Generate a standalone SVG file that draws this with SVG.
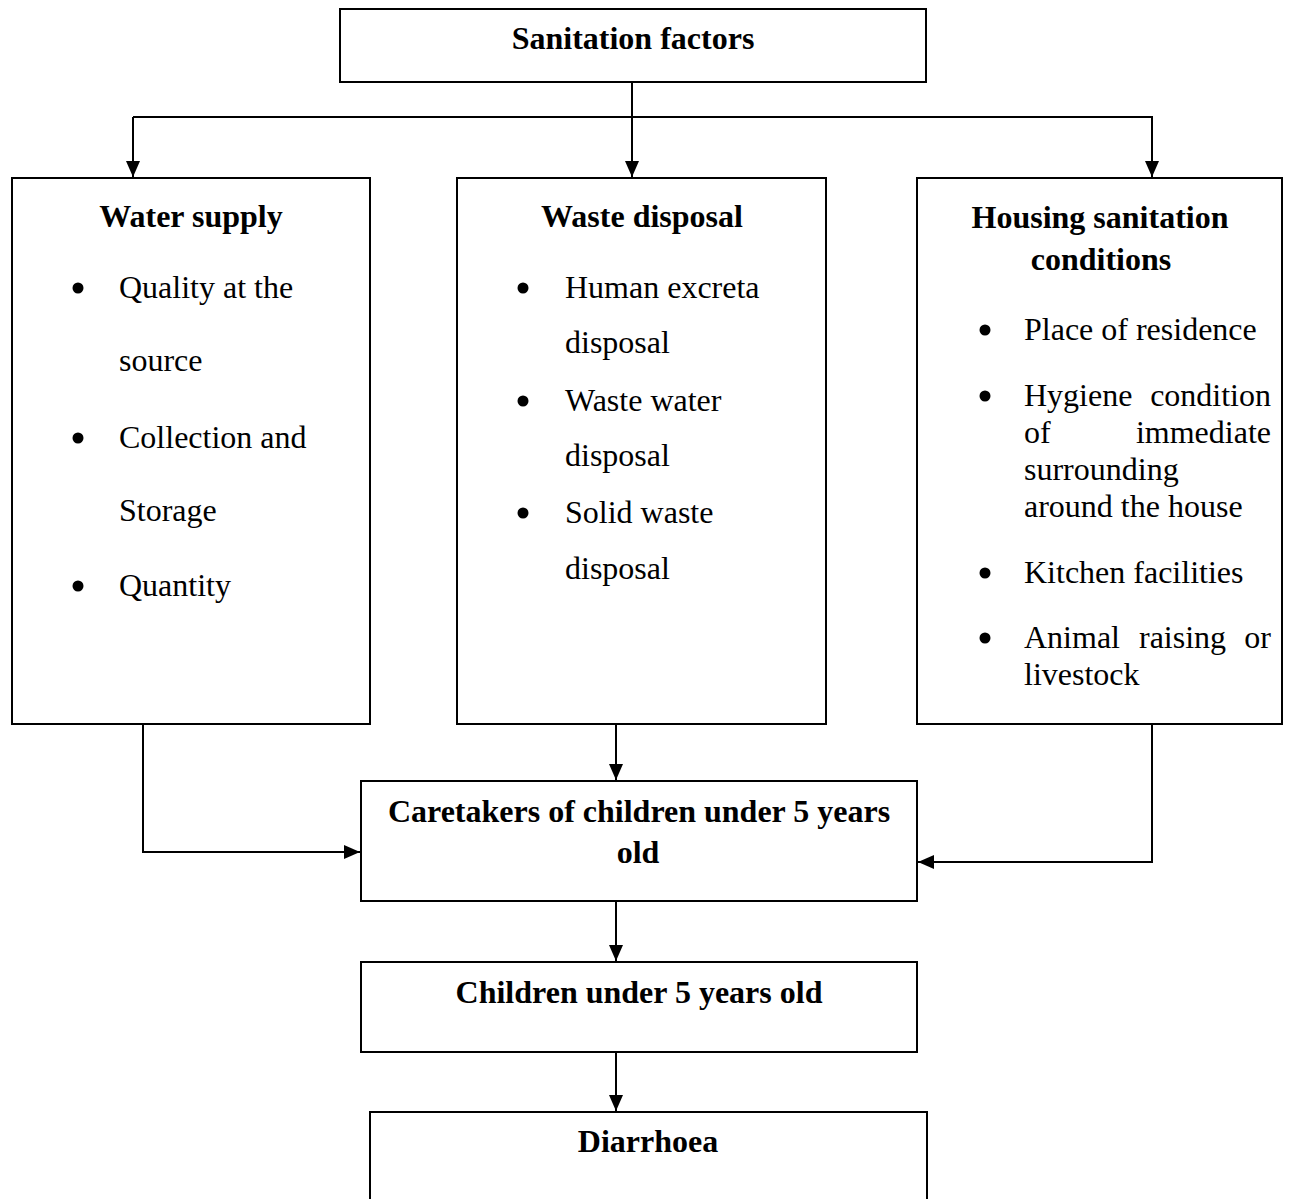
<svg xmlns="http://www.w3.org/2000/svg" width="1292" height="1199" viewBox="0 0 1292 1199">
<defs>
<style>
.box{fill:#fff;stroke:#000;stroke-width:2}
.t{font-family:"Liberation Serif","Times New Roman",serif;font-size:32px;fill:#000}
.b{font-weight:bold;text-anchor:middle}
.c{fill:none;stroke:#000;stroke-width:2}
.dot{fill:#000}
</style>
<marker id="ah" viewBox="0 0 16 14" refX="16" refY="7" markerWidth="16" markerHeight="14" markerUnits="userSpaceOnUse" orient="auto">
<path d="M0,0 L16,7 L0,14 z" fill="#000"/>
</marker>
</defs>
<rect width="1292" height="1199" fill="#fff"/>

<g id="connectors">
<line class="c" x1="632" y1="82" x2="632" y2="177" marker-end="url(#ah)"/>
<polyline class="c" points="133,117 1152,117 1152,177" marker-end="url(#ah)"/>
<line class="c" x1="133" y1="117" x2="133" y2="177" marker-end="url(#ah)"/>
<polyline class="c" points="143,724 143,852 360,852" marker-end="url(#ah)"/>
<line class="c" x1="616" y1="724" x2="616" y2="780" marker-end="url(#ah)"/>
<polyline class="c" points="1152,724 1152,862 918,862" marker-end="url(#ah)"/>
<line class="c" x1="616" y1="902" x2="616" y2="961" marker-end="url(#ah)"/>
<line class="c" x1="616" y1="1052" x2="616" y2="1111" marker-end="url(#ah)"/>
</g>

<g id="sanitation-factors">
<rect class="box" x="340" y="9" width="586" height="73"/>
<text class="t b" x="633" y="49">Sanitation factors</text>
</g>

<g id="water-supply">
<rect class="box" x="12" y="178" width="358" height="546"/>
<text class="t b" x="191" y="227">Water supply</text>
<circle class="dot" cx="78" cy="288" r="5.5"/>
<text class="t" x="119" y="298">Quality at the</text>
<text class="t" x="119" y="371">source</text>
<circle class="dot" cx="78" cy="438" r="5.5"/>
<text class="t" x="119" y="448">Collection and</text>
<text class="t" x="119" y="521">Storage</text>
<circle class="dot" cx="78" cy="586" r="5.5"/>
<text class="t" x="119" y="596">Quantity</text>
</g>

<g id="waste-disposal">
<rect class="box" x="457" y="178" width="369" height="546"/>
<text class="t b" x="642" y="227">Waste disposal</text>
<circle class="dot" cx="523" cy="288" r="5.5"/>
<text class="t" x="565" y="298">Human excreta</text>
<text class="t" x="565" y="353">disposal</text>
<circle class="dot" cx="523" cy="401" r="5.5"/>
<text class="t" x="565" y="411">Waste water</text>
<text class="t" x="565" y="466">disposal</text>
<circle class="dot" cx="523" cy="513" r="5.5"/>
<text class="t" x="565" y="523">Solid waste</text>
<text class="t" x="565" y="579">disposal</text>
</g>

<g id="housing-sanitation">
<rect class="box" x="917" y="178" width="365" height="546"/>
<text class="t b" x="1100" y="228">Housing sanitation</text>
<text class="t b" x="1101" y="270">conditions</text>
<circle class="dot" cx="985" cy="330" r="5.5"/>
<text class="t" x="1024" y="340">Place of residence</text>
<circle class="dot" cx="985" cy="396" r="5.5"/>
<text class="t" y="406"><tspan x="1024">Hygiene</tspan><tspan x="1271" text-anchor="end">condition</tspan></text>
<text class="t" y="443"><tspan x="1024">of</tspan><tspan x="1271" text-anchor="end">immediate</tspan></text>
<text class="t" x="1024" y="480">surrounding</text>
<text class="t" x="1024" y="517">around the house</text>
<circle class="dot" cx="985" cy="573" r="5.5"/>
<text class="t" x="1024" y="583">Kitchen facilities</text>
<circle class="dot" cx="985" cy="638" r="5.5"/>
<text class="t" y="648"><tspan x="1024">Animal</tspan><tspan x="1139">raising</tspan><tspan x="1271" text-anchor="end">or</tspan></text>
<text class="t" x="1024" y="685">livestock</text>
</g>

<g id="caretakers">
<rect class="box" x="361" y="781" width="556" height="120"/>
<text class="t b" x="639" y="822">Caretakers of children under 5 years</text>
<text class="t b" x="638" y="863">old</text>
</g>

<g id="children">
<rect class="box" x="361" y="962" width="556" height="90"/>
<text class="t b" x="639" y="1003">Children under 5 years old</text>
</g>

<g id="diarrhoea">
<rect class="box" x="370" y="1112" width="557" height="110"/>
<text class="t b" x="648" y="1152">Diarrhoea</text>
</g>
</svg>
